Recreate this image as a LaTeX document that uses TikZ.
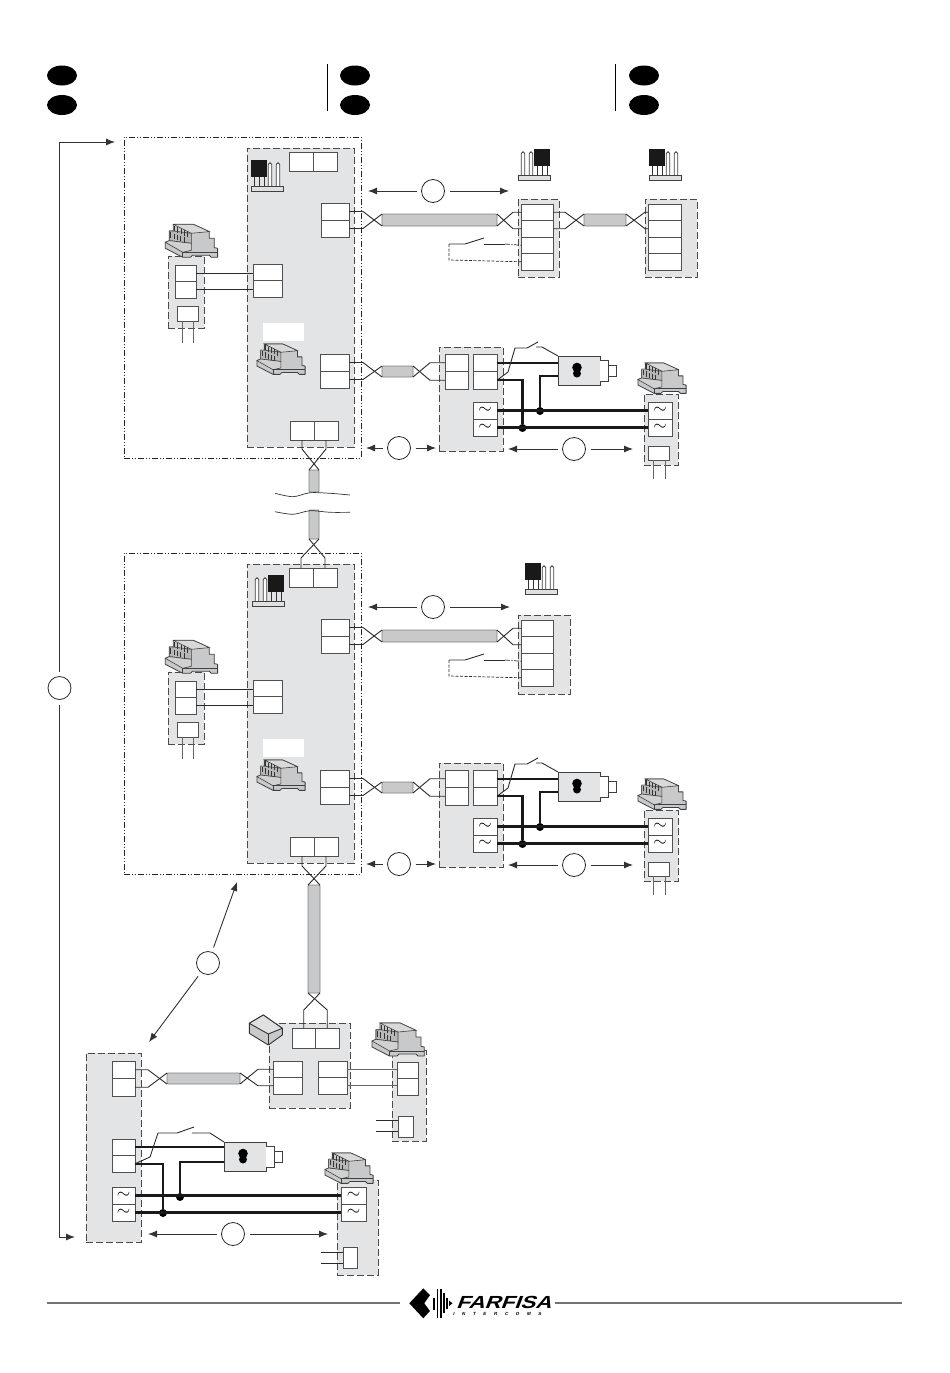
\documentclass[tikz,border=0pt]{standalone}
\usepackage{fontspec}
\usetikzlibrary{arrows.meta,shapes.geometric}
\newfontfamily\logofont[FakeSlant=0.3,BoldFeatures={FakeSlant=0.3}]{Liberation Sans}
\newfontfamily\logosub[FakeSlant=0.2,LetterSpace=170,BoldFeatures={FakeSlant=0.2,LetterSpace=170}]{Liberation Sans}
\definecolor{panelc}{HTML}{E3E4E5}
\definecolor{cablec}{HTML}{C8C9CA}
\definecolor{edgec}{HTML}{4A4A4A}
\definecolor{cellc}{HTML}{505050}
\definecolor{wirec}{HTML}{2A2A2A}
\tikzset{
 every node/.style={inner sep=0pt,outer sep=0pt},
 panelbox/.style={fill=panelc,draw=edgec,line width=1pt,dash pattern=on 7pt off 3pt},
 outerbox/.style={draw=black!85,line width=0.8pt,dash pattern=on 6pt off 2pt on 1pt off 2pt on 1pt off 2pt},
 cellbox/.style={fill=white,draw=cellc,line width=1pt,rectangle},
 cablebox/.style={fill=cablec,draw=black!50,line width=0.8pt,rectangle,rounded corners=1pt},
 whitebox/.style={fill=white,rectangle},
 lockbox/.style={fill=panelc,draw=black!75,line width=1pt,rectangle},
 thinw/.style={draw=wirec,line width=0.9pt},
 thickw/.style={draw=black!90,line width=2.4pt},
 dashw/.style={draw=wirec,line width=0.7pt,dash pattern=on 3pt off 1.5pt},
 dashdotw/.style={draw=wirec,line width=0.7pt,dash pattern=on 5pt off 1.5pt on 1pt off 1.5pt},
 greyw/.style={draw=black!60,line width=1pt},
 junction/.style={circle,fill=black,minimum size=8pt},
 numc/.style={circle,draw=black!85,line width=0.8pt,minimum size=23pt,outer sep=5pt},
 dimline/.style={draw=black!80,line width=0.9pt,-{Latex[length=9pt,width=7pt]}},
 flag/.style={ellipse,fill=black,minimum width=30pt,minimum height=20pt},
}
\newcommand\bx[6]{\node[#1,minimum width={(#5-#3)*1pt},minimum height={(#6-#4)*1pt}] (#2) at ({(#3+#5)/2},{(#4+#6)/2}) {};}
% stacked two cells: name1, name2
\newcommand\twov[5]{\bx{cellbox}{#11}{#2}{#3}{#4}{(#3+#5)/2}\bx{cellbox}{#12}{#2}{(#3+#5)/2}{#4}{#5}}
% side-by-side two cells
\newcommand\twoh[5]{\bx{cellbox}{#11}{#2}{#3}{(#2+#4)/2}{#5}\bx{cellbox}{#12}{(#2+#4)/2}{#3}{#4}{#5}}
% four stacked cells
\newcommand\fourv[5]{\foreach \k in {1,2,3,4}{\bx{cellbox}{#1\k}{#2}{(#3+(\k-1)*(#5-#3)/4)}{#4}{(#3+\k*(#5-#3)/4)}}}
% two stacked tilde cells
\newcommand\acv[5]{\twov{#1}{#2}{#3}{#4}{#5}
 \node at (#11) {\LARGE$\sim$}; \node at (#12) {\LARGE$\sim$};}
\newcommand\twistL[4]{\draw[thinw] (#1.east) -- ++(#4,0) -- (#3.south west);
 \draw[thinw] (#2.east) -- ++(#4,0) -- (#3.north west);}
\newcommand\twistR[4]{\draw[thinw] (#2.west) -- ++(-#4,0) -- (#1.south east);
 \draw[thinw] (#3.west) -- ++(-#4,0) -- (#1.north east);}
\newcommand\dimh[6]{\node[numc] (#1) at (#2,#3) {};
 \coordinate (#1l) at (#4,#3); \coordinate (#1r) at (#5,#3);
 \draw[dimline] (#1) -- (#1l); \draw[dimline] (#1) -- (#1r);}
\newcommand\psuicon[3]{\begin{scope}[shift={(#1,#2)},scale=#3]
 \draw[fill=cablec,draw=black!75,line width=0.8pt,line join=round]
  (8,0)--(28,0)--(44,7.3)--(44,14)--(49,14)--(49,23.3)--(52.3,24)--(52.3,33)--(46,33)--(44,31)--(27,31)--(25,33)--(17.5,33)--(0,24)--(0,18)--(4,16.3)--(4,6.7)--(8,6.7)--cycle;
 \draw[fill=black!15,draw=black!75,line width=0.6pt] (8,0)--(28,0)--(44,7.3)--(26,9)--cycle;
 \draw[fill=black!28,draw=black!75,line width=0.6pt] (4,6.7)--(8,6.7)--(26,9)--(26,19)--(4,16.3)--cycle;
 \draw[fill=black!18,draw=black!75,line width=0.6pt] (0,18)--(4,16.3)--(26,19)--(26,26)--(17.5,28)--cycle;
 \draw[draw=black!75,line width=0.7pt] (17.5,28)--(52.3,28) (17.5,28)--(17.5,33);
 \foreach \i in {0,1,2,3,4}{
  \draw[black!80,line width=0.7pt] ({9+\i*3.3},{1.5+\i*1.4})--++(0,5.5);
  \draw[black!80,line width=0.7pt] ({5.5+\i*3.3},{8+\i*1.2})--++(0,5.5);}
 \end{scope}}
\newcommand\pinicon[3]{\begin{scope}[shift={(#1,#2)},xscale=#3]
 \foreach \u in {3,8,13}{\draw[black!80,line width=0.9pt] (\u,-9)--(\u,0);}
 \fill[black!90] (0,-26) rectangle (16,-9);
 \foreach \u in {19,27}{\draw[fill=white,draw=black!75,line width=0.8pt] (\u-1.7,0)--(\u-1.7,-21.5) arc[start angle=180,end angle=360,radius=1.7]--(\u+1.7,0);}
 \draw[fill=black!12,draw=black!75,line width=0.8pt] (0,0) rectangle (32,5);
 \end{scope}}
% lock detail: node name, left, top
\newcommand\lockicon[3]{\bx{lockbox}{#1}{#2}{#3}{#2+42}{#3+29}
 \begin{scope}[shift={(#2,#3)}]
 \draw[fill=white,draw=black!75,line width=0.9pt] (42,4)--(50,4)--(50,9)--(58,9)--(58,20)--(50,20)--(50,25)--(42,25);
 \draw[black!75,line width=0.9pt] (50,9)--(50,20);
 \fill[black] (19,11.5) circle (4.8);\fill[black] (19,17.5) circle (4);
 \end{scope}}
% common unit of the two upper sections
\newcommand\mainunit[2]{\begin{scope}[shift={(0,#2)}]
 \bx{outerbox}{#1out}{124}{137}{361}{458}
 \bx{panelbox}{#1pan}{247}{148}{354}{447}
 \bx{panelbox}{#1side}{168}{256}{204}{328}
 \bx{whitebox}{#1wb}{263}{323}{304}{341}
 \twov{#1mr}{321}{203}{349}{237}
 \twov{#1ml}{253}{264}{282}{297}
 \twov{#1sd}{175}{265}{196}{298}
 \bx{cellbox}{#1sm}{177}{306}{198}{321}
 \coordinate (#1sa) at (182,343); \coordinate (#1sb) at (193,343);
 \draw[greyw] (#1sm.south -| #1sa) -- (#1sa);
 \draw[greyw] (#1sm.south -| #1sb) -- (#1sb);
 \draw[thinw] (#1sd1.east) -- (#1sd1.east -| #1ml1.west);
 \draw[thinw] (#1sd2.east) -- (#1sd2.east -| #1ml2.west);
 \psuicon{165.3}{224.3}{1}
 \psuicon{257}{344}{0.92}
 \twov{#1mq}{320}{354}{349}{388}
 \twoh{#1bt}{290}{421}{338}{440}
 % lower right unit
 \bx{panelbox}{#1pf}{439}{347}{503}{451}
 \bx{panelbox}{#1pr}{644}{394}{678}{465}
 \bx{cablebox}{#1cb}{382}{366}{413}{377}
 \twov{#1ta}{445}{354}{468}{389}
 \twov{#1tb}{473}{354}{497}{389}
 \acv{#1ac}{473}{402}{497}{436}
 \acv{#1rc}{648}{402}{672}{436}
 \bx{cellbox}{#1rs}{648}{446}{669}{460}
 \coordinate (#1ra) at (653,479); \coordinate (#1rb) at (665,479);
 \draw[greyw] (#1rs.south -| #1ra) -- (#1ra);
 \draw[greyw] (#1rs.south -| #1rb) -- (#1rb);
 \twistL{#1mq1}{#1mq2}{#1cb}{14}
 \twistR{#1cb}{#1ta1}{#1ta2}{15}
 \lockicon{#1lk}{558}{356}
 \node[junction] (#1ja) at (522.5,428) {};
 \node[junction] (#1jb) at (540,411) {};
 \coordinate (#1lq) at (558,376);
 \draw[thickw] (#1tb1.east) -- (#1tb1.east -| #1lk.west);
 \draw[thickw] (#1tb2.east) -- (#1tb2.east -| #1ja) -- (#1ja);
 \draw[thickw] (#1lq) -- (#1lq -| #1jb) -- (#1jb);
 \draw[thickw] (#1ac1.east) -- (#1rc1.west);
 \draw[thickw] (#1ac2.east) -- (#1rc2.west);
 \coordinate (#1sw) at (538,342); \coordinate (#1sx) at (536,347);
 \draw[thinw] (#1tb2.east) -- (508,372) -- (515,348) -- (527,348) -- (#1sw);
 \draw[thinw] (#1sx) -- (542,347) -- (#1lk.north west);
 \psuicon{638}{363}{0.92}
 \dimh{#1da}{399}{448}{366}{436}{}
 \dimh{#1db}{574}{449}{508}{633}{}
 \end{scope}}
% open contact + dashed return into two named cells
\newcommand\contact[4]{\coordinate (#1a) at (449,#4); \coordinate (#1b) at (449,#4+16);
 \draw[thinw] (#1a) -- (465,#4) -- (484,#4-6);
 \draw[thinw] (484,#4) -- (505,#4);
 \draw[dashdotw] (505,#4) -- (#2.west);
 \draw[dashw] (#1a) -- (#1b) -- (#3.west);}
\begin{document}
\begin{tikzpicture}[x=1pt,y=-1pt]
\useasboundingbox (0,0) rectangle (950,1373);
\fill[white] (0,0) rectangle (950,1373);
% header
\node[flag] (h1) at (62,75.5) {}; \node[flag] (h2) at (62,105) {};
\node[flag] (h3) at (355,75.5) {}; \node[flag] (h4) at (355,105) {};
\node[flag] (h5) at (644,75.5) {}; \node[flag] (h6) at (644,105) {};
\draw[black,line width=0.9pt] (327,64)--(327,111);
\draw[black,line width=0.9pt] (615,64)--(615,111);
% section units
\mainunit{s}{0}
\mainunit{t}{416}
% section 1 upper details
\twoh{stp}{289}{152}{337}{171}
\pinicon{251}{186}{1}
\pinicon{550}{175}{-1}
\pinicon{649}{175}{1}
\bx{panelbox}{spa}{518}{199}{559}{277}
\bx{panelbox}{spb}{645}{199}{697}{277}
\fourv{sa}{521}{204}{553}{270}
\fourv{sb}{648}{204}{681}{270}
\bx{cablebox}{sc1}{382}{214}{497}{226}
\bx{cablebox}{sc2}{584}{214}{626}{226}
\twistL{smr1}{smr2}{sc1}{14}
\twistR{sc1}{sa1}{sa2}{8}
\twistL{sa1}{sa2}{sc2}{12}
\twistR{sc2}{sb1}{sb2}{3}
\contact{scn}{sa3}{sa4}{244}
\dimh{sdc}{433}{191}{368}{509}{}
% link between sections
\bx{cablebox}{lka}{309}{470}{319}{492}
\bx{cablebox}{lkb}{309}{510}{319}{539}
\draw[thinw] (sbt1.south) -- ++(0,9) -- (lka.north east);
\draw[thinw] (sbt2.south) -- ++(0,9) -- (lka.north west);
\draw[black!80,line width=0.7pt] plot[smooth] coordinates {(275,493.3)(293,496.7)(310,492.7)(330,493.3)(350,495)};
\draw[black!80,line width=0.7pt] plot[smooth] coordinates {(275,511.7)(293,514.3)(310,510.7)(330,512.3)(350,512.3)};
% section 2 upper details
\twoh{ttp}{289}{568}{337}{587}
\draw[thinw] (ttp1.north) -- ++(0,-10) -- (lkb.south east);
\draw[thinw] (ttp2.north) -- ++(0,-10) -- (lkb.south west);
\pinicon{284}{601}{-1}
\pinicon{525}{589}{1}
\bx{panelbox}{tpa}{518}{615}{570}{694}
\fourv{ta}{521}{620}{553}{686}
\bx{cablebox}{tc1}{382}{630}{497}{642}
\twistL{tmr1}{tmr2}{tc1}{14}
\twistR{tc1}{ta1}{ta2}{8}
\contact{tcn}{ta3}{ta4}{660}
\dimh{tdc}{433}{607}{368}{510}{}
% bottom section
\bx{panelbox}{bl}{86}{1053}{141}{1242}
\bx{panelbox}{bc}{269}{1023}{350}{1108}
\bx{panelbox}{br}{392}{1050}{426}{1141}
\bx{panelbox}{bd}{337}{1180}{378}{1275}
\twov{ba}{112}{1061}{135}{1096}
\twov{bb}{112}{1139}{135}{1172}
\acv{bac}{112}{1187}{135}{1221}
\twoh{bt}{292}{1028}{339}{1048}
\twov{bm}{273}{1061}{302}{1094}
\twov{bn}{318}{1061}{347}{1094}
\twov{bo}{397}{1062}{418}{1095}
\bx{cellbox}{bs}{398}{1116}{413}{1137}
\acv{brc}{341}{1187}{366}{1221}
\bx{cellbox}{bu}{343}{1247}{357}{1268}
\bx{cablebox}{bc1}{167}{1073}{240}{1084}
\bx{cablebox}{bc2}{308}{885}{320}{993}
\draw[thinw] (tbt1.south) -- ++(0,10) -- (bc2.north east);
\draw[thinw] (tbt2.south) -- ++(0,10) -- (bc2.north west);
\draw[thinw] (bt1.north) -- ++(0,-18) -- (bc2.south east);
\draw[thinw] (bt2.north) -- ++(0,-18) -- (bc2.south west);
\twistL{ba1}{ba2}{bc1}{13}
\twistR{bc1}{bm1}{bm2}{15}
\draw[greyw] (bn1.east) -- (bn1.east -| bo1.west);
\draw[greyw] (bn2.east) -- (bn2.east -| bo2.west);
\coordinate (bsa) at (376,1120); \coordinate (bsb) at (376,1131);
\draw[thinw] (bsa) -- (bsa -| bs.west);
\draw[thinw] (bsb) -- (bsb -| bs.west);
\coordinate (bua) at (321,1252); \coordinate (bub) at (321,1263);
\draw[thinw] (bua) -- (bua -| bu.west);
\draw[thinw] (bub) -- (bub -| bu.west);
\lockicon{blk}{224}{1142}
\node[junction] (bja) at (163,1213) {};
\node[junction] (bjb) at (180,1197) {};
\coordinate (blq) at (224,1162);
\draw[thickw] (bb1.east) -- (bb1.east -| blk.west);
\draw[thickw] (bb2.east) -- (bb2.east -| bja) -- (bja);
\draw[thickw] (blq) -- (blq -| bjb) -- (bjb);
\draw[thickw] (bac1.east) -- (brc1.west);
\draw[thickw] (bac2.east) -- (brc2.west);
\coordinate (bsw) at (194,1127); \coordinate (bsx) at (192,1133);
\draw[thinw] (bb2.east) -- (150,1157) -- (158,1133) -- (177,1133) -- (bsw);
\draw[thinw] (bsx) -- (210,1133) -- (blk.north west);
\psuicon{372}{1023}{1}
\psuicon{325}{1153}{0.92}
% box icon
\draw[fill=cablec,draw=black!80,line width=0.9pt,line join=round] (249.3,1023.3)--(263.3,1015)--(282.3,1028.3)--(282.3,1035)--(268.3,1045)--(249.3,1033.3)--cycle;
\draw[fill=black!12,draw=black!80,line width=0.9pt,line join=round] (249.3,1023.3)--(263.3,1015)--(282.3,1028.3)--(268.3,1034)--cycle;
\draw[black!80,line width=0.9pt] (268.3,1034)--(268.3,1045);
\dimh{bdc}{233}{1234}{148}{328}{}
% long left arrows
\node[numc] (lc) at (59.5,688) {};
\coordinate (ltop) at (115,142); \coordinate (lbot) at (75,1237);
\draw[dimline] (lc) -- (lc |- ltop) -- (ltop);
\draw[dimline] (lc) -- (lc |- lbot) -- (lbot);
% diagonal arrows
\node[numc] (mc) at (208,963) {};
\coordinate (mu) at (237,882); \coordinate (ml) at (149,1042);
\draw[dimline] (mc) -- (mu);
\draw[dimline] (mc) -- (ml);
% footer
\draw[black!55,line width=1.2pt] (47,1303)--(400,1303);
\draw[black!55,line width=1.2pt] (555,1303)--(902,1303);
\fill[black] (409.3,1303.3)--(423.3,1288.3)--(430,1295)--(424.3,1303.3)--(430,1311)--(423.3,1318.3)--cycle;
\fill[black] (433,1297.5) rectangle (435,1309.5);
\fill[black] (436.5,1289) rectangle (438,1317.5);
\fill[black] (440,1288.5) rectangle (441.5,1318);
\fill[black] (443,1293) rectangle (444.5,1313);
\fill[black] (446,1298) rectangle (447.5,1309);
\fill[black] (449,1300.5)--(452.5,1303.3)--(449,1306)--cycle;
\node[anchor=west] (logo) at (456,1302) {\scalebox{1.27}[1]{\logofont\bfseries\fontsize{17.5}{17.5}\selectfont FARFISA}};
\node[anchor=west] (logos) at (453,1314) {\logosub\bfseries\fontsize{4.5}{4.5}\selectfont INTERCOMS};
\end{tikzpicture}
\end{document}
